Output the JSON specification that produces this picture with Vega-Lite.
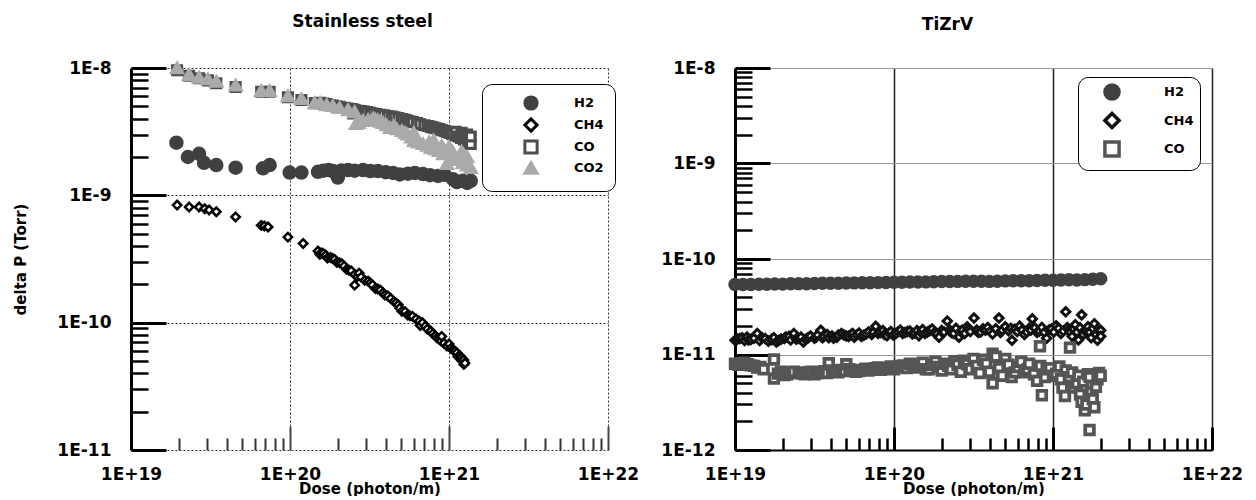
{
"$schema": "https://vega.github.io/schema/vega-lite/v6.json",
"autosize": {"type": "pad"},
"padding": {"left": 13, "top": 12, "right": 5, "bottom": 0},
"background": "white",
"bounds": "flush",
"spacing": 127,
"resolve": {"scale": {"shape": "independent", "fill": "independent", "stroke": "independent", "size": "independent", "strokeWidth": "independent"}},
"config": {
  "view": {"stroke": null},
  "font": "DejaVu Sans",
  "axis": {"labelFont": "DejaVu Sans", "labelFontWeight": "bold", "labelFontSize": 17, "labelColor": "black", "titleFont": "DejaVu Sans", "titleFontWeight": "bold", "titleFontSize": 15, "titleColor": "black", "labelFlush": false, "labelOverlap": false},
  "legend": {"labelFont": "DejaVu Sans", "labelFontWeight": "bold", "labelFontSize": 13, "labelColor": "black"}
},
"datasets": {
"ss": [
{"g":"H2","d":1.93e19,"p":2.59e-9},{"g":"H2","d":2.28e19,"p":2.00e-9},{"g":"H2","d":2.68e19,"p":2.12e-9},{"g":"H2","d":2.88e19,"p":1.80e-9},{"g":"H2","d":3.44e19,"p":1.73e-9},{"g":"H2","d":4.55e19,"p":1.65e-9},{"g":"H2","d":6.76e19,"p":1.63e-9},{"g":"H2","d":7.45e19,"p":1.73e-9},{"g":"H2","d":9.95e19,"p":1.51e-9},{"g":"H2","d":1.18e20,"p":1.51e-9},{"g":"H2","d":1.50e20,"p":1.53e-9},{"g":"H2","d":1.62e20,"p":1.56e-9},{"g":"H2","d":1.75e20,"p":1.58e-9},{"g":"H2","d":1.86e20,"p":1.55e-9},{"g":"H2","d":2.0e20,"p":1.38e-9},{"g":"H2","d":2.1e20,"p":1.57e-9},{"g":"H2","d":2.32e20,"p":1.58e-9},{"g":"H2","d":2.55e20,"p":1.56e-9},{"g":"H2","d":2.88e20,"p":1.58e-9},{"g":"H2","d":3.2e20,"p":1.55e-9},{"g":"H2","d":3.57e20,"p":1.55e-9},{"g":"H2","d":4.0e20,"p":1.52e-9},{"g":"H2","d":4.45e20,"p":1.50e-9},{"g":"H2","d":4.9e20,"p":1.46e-9},{"g":"H2","d":5.52e20,"p":1.48e-9},{"g":"H2","d":6.1e20,"p":1.50e-9},{"g":"H2","d":6.86e20,"p":1.47e-9},{"g":"H2","d":7.6e20,"p":1.44e-9},{"g":"H2","d":8.53e20,"p":1.42e-9},{"g":"H2","d":9.4e20,"p":1.45e-9},{"g":"H2","d":1.06e21,"p":1.34e-9},{"g":"H2","d":1.12e21,"p":1.27e-9},{"g":"H2","d":1.22e21,"p":1.30e-9},{"g":"H2","d":1.30e21,"p":1.25e-9},{"g":"H2","d":1.37e21,"p":1.30e-9},
{"g":"CH4","d":1.95e19,"p":8.39e-10},{"g":"CH4","d":2.32e19,"p":8.09e-10},{"g":"CH4","d":2.68e19,"p":8.09e-10},{"g":"CH4","d":2.91e19,"p":7.85e-10},{"g":"CH4","d":3.10e19,"p":7.67e-10},{"g":"CH4","d":3.44e19,"p":7.44e-10},{"g":"CH4","d":4.55e19,"p":6.76e-10},{"g":"CH4","d":6.59e19,"p":5.81e-10},{"g":"CH4","d":6.9e19,"p":5.75e-10},{"g":"CH4","d":7.28e19,"p":5.64e-10},{"g":"CH4","d":9.70e19,"p":4.70e-10},{"g":"CH4","d":1.21e20,"p":4.19e-10},{"g":"CH4","d":1.50e20,"p":3.65e-10},{"g":"CH4","d":1.54e20,"p":3.45e-10},{"g":"CH4","d":1.58e20,"p":3.52e-10},{"g":"CH4","d":1.62e20,"p":3.50e-10},{"g":"CH4","d":1.68e20,"p":3.39e-10},{"g":"CH4","d":1.72e20,"p":3.22e-10},{"g":"CH4","d":1.80e20,"p":3.25e-10},{"g":"CH4","d":1.85e20,"p":3.20e-10},{"g":"CH4","d":1.91e20,"p":3.14e-10},{"g":"CH4","d":1.97e20,"p":2.98e-10},{"g":"CH4","d":2.05e20,"p":2.95e-10},{"g":"CH4","d":2.12e20,"p":2.90e-10},{"g":"CH4","d":2.19e20,"p":2.78e-10},{"g":"CH4","d":2.27e20,"p":2.62e-10},{"g":"CH4","d":2.35e20,"p":2.58e-10},{"g":"CH4","d":2.43e20,"p":2.55e-10},{"g":"CH4","d":2.55e20,"p":2.39e-10},{"g":"CH4","d":2.55e20,"p":1.97e-10},{"g":"CH4","d":2.65e20,"p":2.30e-10},{"g":"CH4","d":2.72e20,"p":2.45e-10},{"g":"CH4","d":2.80e20,"p":2.28e-10},{"g":"CH4","d":2.95e20,"p":2.15e-10},{"g":"CH4","d":3.10e20,"p":2.12e-10},{"g":"CH4","d":3.2e20,"p":2.05e-10},{"g":"CH4","d":3.3e20,"p":1.98e-10},{"g":"CH4","d":3.45e20,"p":1.85e-10},{"g":"CH4","d":3.57e20,"p":1.84e-10},{"g":"CH4","d":3.7e20,"p":1.80e-10},{"g":"CH4","d":3.85e20,"p":1.72e-10},{"g":"CH4","d":3.95e20,"p":1.65e-10},{"g":"CH4","d":4.13e20,"p":1.62e-10},{"g":"CH4","d":4.3e20,"p":1.55e-10},{"g":"CH4","d":4.5e20,"p":1.47e-10},{"g":"CH4","d":4.64e20,"p":1.43e-10},{"g":"CH4","d":4.8e20,"p":1.38e-10},{"g":"CH4","d":4.9e20,"p":1.30e-10},{"g":"CH4","d":5.06e20,"p":1.23e-10},{"g":"CH4","d":5.3e20,"p":1.22e-10},{"g":"CH4","d":5.5e20,"p":1.15e-10},{"g":"CH4","d":5.69e20,"p":1.13e-10},{"g":"CH4","d":5.9e20,"p":1.12e-10},{"g":"CH4","d":6.20e20,"p":1.07e-10},{"g":"CH4","d":6.5e20,"p":1.03e-10},{"g":"CH4","d":6.6e20,"p":9.5e-11},{"g":"CH4","d":6.81e20,"p":9.98e-11},{"g":"CH4","d":7.1e20,"p":9.4e-11},{"g":"CH4","d":7.3e20,"p":8.9e-11},{"g":"CH4","d":7.67e20,"p":8.59e-11},{"g":"CH4","d":7.9e20,"p":8.2e-11},{"g":"CH4","d":8.2e20,"p":7.9e-11},{"g":"CH4","d":8.4e20,"p":7.6e-11},{"g":"CH4","d":8.65e20,"p":7.43e-11},{"g":"CH4","d":8.9e20,"p":7.2e-11},{"g":"CH4","d":9.0e20,"p":7.8e-11},{"g":"CH4","d":9.3e20,"p":6.9e-11},{"g":"CH4","d":9.70e20,"p":6.55e-11},{"g":"CH4","d":1.0e21,"p":6.8e-11},{"g":"CH4","d":1.03e21,"p":6.3e-11},{"g":"CH4","d":1.06e21,"p":6.1e-11},{"g":"CH4","d":1.09e21,"p":5.98e-11},{"g":"CH4","d":1.12e21,"p":5.8e-11},{"g":"CH4","d":1.14e21,"p":5.4e-11},{"g":"CH4","d":1.17e21,"p":5.47e-11},{"g":"CH4","d":1.2e21,"p":5.3e-11},{"g":"CH4","d":1.21e21,"p":5.0e-11},{"g":"CH4","d":1.24e21,"p":5.1e-11},{"g":"CH4","d":1.24e21,"p":4.7e-11},{"g":"CH4","d":1.26e21,"p":4.82e-11},
{"g":"CO","d":1.95e19,"p":9.6e-9},{"g":"CO","d":2.32e19,"p":8.7e-9},{"g":"CO","d":2.68e19,"p":8.3e-9},{"g":"CO","d":3.05e19,"p":8.0e-9},{"g":"CO","d":3.44e19,"p":7.6e-9},{"g":"CO","d":4.55e19,"p":7.1e-9},{"g":"CO","d":6.59e19,"p":6.5e-9},{"g":"CO","d":7.45e19,"p":6.5e-9},{"g":"CO","d":9.7e19,"p":5.9e-9},{"g":"CO","d":1.18e20,"p":5.6e-9},{"g":"CO","d":1.43e20,"p":5.3e-9},{"g":"CO","d":1.55e20,"p":5.34e-9},{"g":"CO","d":1.62e20,"p":5.25e-9},{"g":"CO","d":1.70e20,"p":5.2e-9},{"g":"CO","d":1.78e20,"p":5.1e-9},{"g":"CO","d":1.86e20,"p":5.07e-9},{"g":"CO","d":1.95e20,"p":5.0e-9},{"g":"CO","d":2.05e20,"p":4.95e-9},{"g":"CO","d":2.2e20,"p":4.88e-9},{"g":"CO","d":2.32e20,"p":4.80e-9},{"g":"CO","d":2.45e20,"p":4.75e-9},{"g":"CO","d":2.5e20,"p":4.4e-9},{"g":"CO","d":2.55e20,"p":4.7e-9},{"g":"CO","d":2.68e20,"p":4.62e-9},{"g":"CO","d":2.80e20,"p":4.59e-9},{"g":"CO","d":2.92e20,"p":4.55e-9},{"g":"CO","d":3.05e20,"p":4.5e-9},{"g":"CO","d":3.2e20,"p":4.45e-9},{"g":"CO","d":3.33e20,"p":4.39e-9},{"g":"CO","d":3.5e20,"p":4.35e-9},{"g":"CO","d":3.7e20,"p":4.3e-9},{"g":"CO","d":3.9e20,"p":4.25e-9},{"g":"CO","d":4.13e20,"p":4.20e-9},{"g":"CO","d":4.35e20,"p":4.15e-9},{"g":"CO","d":4.55e20,"p":4.1e-9},{"g":"CO","d":4.8e20,"p":4.05e-9},{"g":"CO","d":5.06e20,"p":3.98e-9},{"g":"CO","d":5.3e20,"p":3.92e-9},{"g":"CO","d":5.5e20,"p":3.85e-9},{"g":"CO","d":5.7e20,"p":3.8e-9},{"g":"CO","d":5.94e20,"p":3.76e-9},{"g":"CO","d":6.3e20,"p":3.7e-9},{"g":"CO","d":6.6e20,"p":3.62e-9},{"g":"CO","d":7.0e20,"p":3.55e-9},{"g":"CO","d":7.38e20,"p":3.50e-9},{"g":"CO","d":7.7e20,"p":3.45e-9},{"g":"CO","d":8.0e20,"p":3.40e-9},{"g":"CO","d":8.3e20,"p":3.36e-9},{"g":"CO","d":8.65e20,"p":3.32e-9},{"g":"CO","d":9.0e20,"p":3.25e-9},{"g":"CO","d":9.4e20,"p":3.2e-9},{"g":"CO","d":9.7e20,"p":3.15e-9},{"g":"CO","d":1.01e21,"p":3.09e-9},{"g":"CO","d":1.05e21,"p":3.02e-9},{"g":"CO","d":1.10e21,"p":2.95e-9},{"g":"CO","d":1.1e21,"p":3.15e-9},{"g":"CO","d":1.15e21,"p":2.9e-9},{"g":"CO","d":1.19e21,"p":2.82e-9},{"g":"CO","d":1.2e21,"p":3.1e-9},{"g":"CO","d":1.24e21,"p":2.75e-9},{"g":"CO","d":1.25e21,"p":2.95e-9},{"g":"CO","d":1.28e21,"p":2.68e-9},{"g":"CO","d":1.3e21,"p":3.0e-9},{"g":"CO","d":1.33e21,"p":2.6e-9},{"g":"CO","d":1.33e21,"p":2.85e-9},{"g":"CO","d":1.37e21,"p":2.53e-9},{"g":"CO","d":1.37e21,"p":2.9e-9},
{"g":"CO2","d":1.95e19,"p":9.95e-9},{"g":"CO2","d":2.32e19,"p":8.8e-9},{"g":"CO2","d":2.68e19,"p":8.4e-9},{"g":"CO2","d":3.05e19,"p":8.15e-9},{"g":"CO2","d":3.44e19,"p":7.8e-9},{"g":"CO2","d":4.55e19,"p":7.3e-9},{"g":"CO2","d":6.59e19,"p":6.6e-9},{"g":"CO2","d":7.45e19,"p":6.6e-9},{"g":"CO2","d":9.7e19,"p":6.0e-9},{"g":"CO2","d":1.18e20,"p":5.7e-9},{"g":"CO2","d":1.43e20,"p":5.3e-9},{"g":"CO2","d":1.55e20,"p":5.3e-9},{"g":"CO2","d":1.70e20,"p":5.1e-9},{"g":"CO2","d":1.86e20,"p":5.03e-9},{"g":"CO2","d":2.05e20,"p":4.85e-9},{"g":"CO2","d":2.32e20,"p":4.67e-9},{"g":"CO2","d":2.55e20,"p":4.5e-9},{"g":"CO2","d":2.60e20,"p":3.63e-9},{"g":"CO2","d":2.7e20,"p":3.7e-9},{"g":"CO2","d":2.88e20,"p":3.84e-9},{"g":"CO2","d":3.1e20,"p":3.9e-9},{"g":"CO2","d":3.33e20,"p":3.98e-9},{"g":"CO2","d":3.45e20,"p":3.92e-9},{"g":"CO2","d":3.6e20,"p":3.85e-9},{"g":"CO2","d":3.7e20,"p":3.78e-9},{"g":"CO2","d":3.85e20,"p":3.70e-9},{"g":"CO2","d":4.05e20,"p":3.55e-9},{"g":"CO2","d":4.26e20,"p":3.38e-9},{"g":"CO2","d":4.5e20,"p":3.5e-9},{"g":"CO2","d":4.7e20,"p":3.3e-9},{"g":"CO2","d":5.06e20,"p":3.20e-9},{"g":"CO2","d":5.3e20,"p":3.1e-9},{"g":"CO2","d":5.5e20,"p":3.0e-9},{"g":"CO2","d":5.8e20,"p":2.85e-9},{"g":"CO2","d":6.0e20,"p":3.1e-9},{"g":"CO2","d":6.03e20,"p":2.67e-9},{"g":"CO2","d":6.4e20,"p":2.6e-9},{"g":"CO2","d":6.86e20,"p":2.53e-9},{"g":"CO2","d":7.3e20,"p":2.45e-9},{"g":"CO2","d":7.5e20,"p":2.6e-9},{"g":"CO2","d":7.70e20,"p":2.36e-9},{"g":"CO2","d":8.0e20,"p":2.7e-9},{"g":"CO2","d":8.2e20,"p":2.3e-9},{"g":"CO2","d":8.65e20,"p":2.23e-9},{"g":"CO2","d":9.0e20,"p":2.45e-9},{"g":"CO2","d":9.2e20,"p":2.1e-9},{"g":"CO2","d":9.70e20,"p":1.76e-9},{"g":"CO2","d":1.0e21,"p":2.4e-9},{"g":"CO2","d":1.03e21,"p":2.0e-9},{"g":"CO2","d":1.05e21,"p":2.2e-9},{"g":"CO2","d":1.09e21,"p":1.96e-9},{"g":"CO2","d":1.15e21,"p":1.9e-9},{"g":"CO2","d":1.2e21,"p":2.2e-9},{"g":"CO2","d":1.22e21,"p":1.79e-9},{"g":"CO2","d":1.3e21,"p":1.72e-9},{"g":"CO2","d":1.3e21,"p":2.0e-9},{"g":"CO2","d":1.37e21,"p":1.64e-9}
],
"tzv": [
{"g":"H2","d":1.000e19,"p":5.40e-11},{"g":"H2","d":1.122e19,"p":5.42e-11},{"g":"H2","d":1.259e19,"p":5.40e-11},{"g":"H2","d":1.413e19,"p":5.45e-11},{"g":"H2","d":1.585e19,"p":5.44e-11},{"g":"H2","d":1.778e19,"p":5.47e-11},{"g":"H2","d":1.995e19,"p":5.46e-11},{"g":"H2","d":2.239e19,"p":5.50e-11},{"g":"H2","d":2.512e19,"p":5.52e-11},{"g":"H2","d":2.818e19,"p":5.50e-11},{"g":"H2","d":3.162e19,"p":5.55e-11},{"g":"H2","d":3.548e19,"p":5.56e-11},{"g":"H2","d":3.981e19,"p":5.58e-11},{"g":"H2","d":4.467e19,"p":5.57e-11},{"g":"H2","d":5.012e19,"p":5.60e-11},{"g":"H2","d":5.623e19,"p":5.62e-11},{"g":"H2","d":6.310e19,"p":5.63e-11},{"g":"H2","d":7.079e19,"p":5.65e-11},{"g":"H2","d":7.943e19,"p":5.66e-11},{"g":"H2","d":8.913e19,"p":5.68e-11},{"g":"H2","d":1.000e20,"p":5.70e-11},{"g":"H2","d":1.122e20,"p":5.72e-11},{"g":"H2","d":1.259e20,"p":5.73e-11},{"g":"H2","d":1.413e20,"p":5.75e-11},{"g":"H2","d":1.585e20,"p":5.76e-11},{"g":"H2","d":1.778e20,"p":5.78e-11},{"g":"H2","d":1.995e20,"p":5.80e-11},{"g":"H2","d":2.239e20,"p":5.82e-11},{"g":"H2","d":2.512e20,"p":5.83e-11},{"g":"H2","d":2.818e20,"p":5.85e-11},{"g":"H2","d":3.162e20,"p":5.86e-11},{"g":"H2","d":3.548e20,"p":5.84e-11},{"g":"H2","d":3.981e20,"p":5.83e-11},{"g":"H2","d":4.467e20,"p":5.86e-11},{"g":"H2","d":5.012e20,"p":5.90e-11},{"g":"H2","d":5.623e20,"p":5.92e-11},{"g":"H2","d":6.310e20,"p":5.93e-11},{"g":"H2","d":7.079e20,"p":5.92e-11},{"g":"H2","d":7.943e20,"p":5.95e-11},{"g":"H2","d":8.913e20,"p":5.98e-11},{"g":"H2","d":1.000e21,"p":6.00e-11},{"g":"H2","d":1.122e21,"p":6.02e-11},{"g":"H2","d":1.259e21,"p":6.05e-11},{"g":"H2","d":1.413e21,"p":6.02e-11},{"g":"H2","d":1.585e21,"p":6.08e-11},{"g":"H2","d":1.778e21,"p":6.15e-11},{"g":"H2","d":1.995e21,"p":6.20e-11},
{"g":"CH4","d":1.000e19,"p":1.41e-11},{"g":"CH4","d":1.035e19,"p":1.45e-11},{"g":"CH4","d":1.072e19,"p":1.47e-11},{"g":"CH4","d":1.109e19,"p":1.50e-11},{"g":"CH4","d":1.148e19,"p":1.40e-11},{"g":"CH4","d":1.189e19,"p":1.52e-11},{"g":"CH4","d":1.216e19,"p":1.42e-11},{"g":"CH4","d":1.259e19,"p":1.44e-11},{"g":"CH4","d":1.318e19,"p":1.48e-11},{"g":"CH4","d":1.380e19,"p":1.66e-11},{"g":"CH4","d":1.429e19,"p":1.40e-11},{"g":"CH4","d":1.479e19,"p":1.50e-11},{"g":"CH4","d":1.549e19,"p":1.47e-11},{"g":"CH4","d":1.622e19,"p":1.38e-11},{"g":"CH4","d":1.698e19,"p":1.43e-11},{"g":"CH4","d":1.758e19,"p":1.50e-11},{"g":"CH4","d":1.820e19,"p":1.35e-11},{"g":"CH4","d":1.884e19,"p":1.40e-11},{"g":"CH4","d":1.950e19,"p":1.45e-11},{"g":"CH4","d":2.042e19,"p":1.47e-11},{"g":"CH4","d":2.089e19,"p":1.52e-11},{"g":"CH4","d":2.188e19,"p":1.55e-11},{"g":"CH4","d":2.239e19,"p":1.42e-11},{"g":"CH4","d":2.344e19,"p":1.66e-11},{"g":"CH4","d":2.427e19,"p":1.45e-11},{"g":"CH4","d":2.512e19,"p":1.47e-11},{"g":"CH4","d":2.600e19,"p":1.52e-11},{"g":"CH4","d":2.692e19,"p":1.35e-11},{"g":"CH4","d":2.786e19,"p":1.44e-11},{"g":"CH4","d":2.884e19,"p":1.50e-11},{"g":"CH4","d":2.985e19,"p":1.56e-11},{"g":"CH4","d":3.162e19,"p":1.48e-11},{"g":"CH4","d":3.236e19,"p":1.52e-11},{"g":"CH4","d":3.311e19,"p":1.60e-11},{"g":"CH4","d":3.467e19,"p":1.79e-11},{"g":"CH4","d":3.548e19,"p":1.50e-11},{"g":"CH4","d":3.631e19,"p":1.55e-11},{"g":"CH4","d":3.802e19,"p":1.62e-11},{"g":"CH4","d":3.890e19,"p":1.50e-11},{"g":"CH4","d":4.074e19,"p":1.56e-11},{"g":"CH4","d":4.169e19,"p":1.48e-11},{"g":"CH4","d":4.365e19,"p":1.52e-11},{"g":"CH4","d":4.467e19,"p":1.60e-11},{"g":"CH4","d":4.677e19,"p":1.66e-11},{"g":"CH4","d":4.842e19,"p":1.60e-11},{"g":"CH4","d":5.012e19,"p":1.56e-11},{"g":"CH4","d":5.188e19,"p":1.55e-11},{"g":"CH4","d":5.370e19,"p":1.62e-11},{"g":"CH4","d":5.495e19,"p":1.66e-11},{"g":"CH4","d":5.623e19,"p":1.52e-11},{"g":"CH4","d":5.821e19,"p":1.60e-11},{"g":"CH4","d":6.026e19,"p":1.68e-11},{"g":"CH4","d":6.237e19,"p":1.55e-11},{"g":"CH4","d":6.457e19,"p":1.59e-11},{"g":"CH4","d":6.683e19,"p":1.64e-11},{"g":"CH4","d":6.918e19,"p":1.72e-11},{"g":"CH4","d":7.244e19,"p":1.62e-11},{"g":"CH4","d":7.413e19,"p":1.70e-11},{"g":"CH4","d":7.674e19,"p":1.97e-11},{"g":"CH4","d":7.943e19,"p":1.66e-11},{"g":"CH4","d":8.222e19,"p":1.70e-11},{"g":"CH4","d":8.511e19,"p":1.78e-11},{"g":"CH4","d":8.710e19,"p":1.62e-11},{"g":"CH4","d":9.036e19,"p":1.57e-11},{"g":"CH4","d":9.333e19,"p":1.68e-11},{"g":"CH4","d":9.550e19,"p":1.74e-11},{"g":"CH4","d":9.886e19,"p":1.60e-11},{"g":"CH4","d":1.023e20,"p":1.65e-11},{"g":"CH4","d":1.059e20,"p":1.72e-11},{"g":"CH4","d":1.096e20,"p":1.80e-11},{"g":"CH4","d":1.135e20,"p":1.66e-11},{"g":"CH4","d":1.175e20,"p":1.70e-11},{"g":"CH4","d":1.216e20,"p":1.74e-11},{"g":"CH4","d":1.259e20,"p":1.76e-11},{"g":"CH4","d":1.303e20,"p":1.64e-11},{"g":"CH4","d":1.349e20,"p":1.68e-11},{"g":"CH4","d":1.396e20,"p":1.78e-11},{"g":"CH4","d":1.435e20,"p":1.57e-11},{"g":"CH4","d":1.479e20,"p":1.70e-11},{"g":"CH4","d":1.514e20,"p":1.82e-11},{"g":"CH4","d":1.567e20,"p":1.66e-11},{"g":"CH4","d":1.622e20,"p":1.72e-11},{"g":"CH4","d":1.679e20,"p":1.78e-11},{"g":"CH4","d":1.738e20,"p":1.85e-11},{"g":"CH4","d":1.799e20,"p":1.70e-11},{"g":"CH4","d":1.862e20,"p":1.64e-11},{"g":"CH4","d":1.919e20,"p":1.52e-11},{"g":"CH4","d":1.995e20,"p":1.78e-11},{"g":"CH4","d":2.065e20,"p":1.72e-11},{"g":"CH4","d":2.163e20,"p":2.24e-11},{"g":"CH4","d":2.239e20,"p":1.80e-11},{"g":"CH4","d":2.291e20,"p":1.70e-11},{"g":"CH4","d":2.371e20,"p":1.66e-11},{"g":"CH4","d":2.455e20,"p":1.88e-11},{"g":"CH4","d":2.564e20,"p":1.52e-11},{"g":"CH4","d":2.630e20,"p":1.74e-11},{"g":"CH4","d":2.692e20,"p":1.80e-11},{"g":"CH4","d":2.786e20,"p":1.66e-11},{"g":"CH4","d":2.884e20,"p":1.95e-11},{"g":"CH4","d":2.951e20,"p":1.84e-11},{"g":"CH4","d":3.020e20,"p":1.74e-11},{"g":"CH4","d":3.184e20,"p":2.41e-11},{"g":"CH4","d":3.311e20,"p":1.80e-11},{"g":"CH4","d":3.388e20,"p":1.70e-11},{"g":"CH4","d":3.508e20,"p":1.72e-11},{"g":"CH4","d":3.631e20,"p":1.86e-11},{"g":"CH4","d":3.758e20,"p":1.80e-11},{"g":"CH4","d":3.890e20,"p":1.92e-11},{"g":"CH4","d":4.027e20,"p":1.74e-11},{"g":"CH4","d":4.169e20,"p":1.64e-11},{"g":"CH4","d":4.365e20,"p":1.86e-11},{"g":"CH4","d":4.571e20,"p":2.41e-11},{"g":"CH4","d":4.677e20,"p":1.70e-11},{"g":"CH4","d":4.786e20,"p":1.80e-11},{"g":"CH4","d":5.012e20,"p":1.95e-11},{"g":"CH4","d":5.248e20,"p":1.78e-11},{"g":"CH4","d":5.433e20,"p":1.88e-11},{"g":"CH4","d":5.521e20,"p":1.41e-11},{"g":"CH4","d":5.754e20,"p":1.84e-11},{"g":"CH4","d":5.957e20,"p":1.74e-11},{"g":"CH4","d":6.166e20,"p":1.98e-11},{"g":"CH4","d":6.383e20,"p":1.80e-11},{"g":"CH4","d":6.607e20,"p":1.62e-11},{"g":"CH4","d":6.839e20,"p":1.72e-11},{"g":"CH4","d":7.079e20,"p":1.88e-11},{"g":"CH4","d":7.244e20,"p":1.80e-11},{"g":"CH4","d":7.413e20,"p":2.36e-11},{"g":"CH4","d":7.674e20,"p":1.90e-11},{"g":"CH4","d":7.943e20,"p":1.70e-11},{"g":"CH4","d":8.222e20,"p":1.76e-11},{"g":"CH4","d":8.511e20,"p":1.92e-11},{"g":"CH4","d":8.810e20,"p":1.70e-11},{"g":"CH4","d":9.120e20,"p":1.48e-11},{"g":"CH4","d":9.441e20,"p":1.80e-11},{"g":"CH4","d":9.772e20,"p":1.85e-11},{"g":"CH4","d":1.012e21,"p":1.72e-11},{"g":"CH4","d":1.047e21,"p":2.00e-11},{"g":"CH4","d":1.084e21,"p":1.88e-11},{"g":"CH4","d":1.122e21,"p":1.66e-11},{"g":"CH4","d":1.161e21,"p":1.76e-11},{"g":"CH4","d":1.202e21,"p":2.80e-11},{"g":"CH4","d":1.230e21,"p":1.92e-11},{"g":"CH4","d":1.259e21,"p":1.80e-11},{"g":"CH4","d":1.288e21,"p":1.70e-11},{"g":"CH4","d":1.318e21,"p":1.55e-11},{"g":"CH4","d":1.349e21,"p":1.85e-11},{"g":"CH4","d":1.380e21,"p":2.05e-11},{"g":"CH4","d":1.413e21,"p":1.72e-11},{"g":"CH4","d":1.445e21,"p":1.42e-11},{"g":"CH4","d":1.479e21,"p":1.90e-11},{"g":"CH4","d":1.514e21,"p":2.60e-11},{"g":"CH4","d":1.549e21,"p":1.62e-11},{"g":"CH4","d":1.585e21,"p":1.78e-11},{"g":"CH4","d":1.622e21,"p":1.85e-11},{"g":"CH4","d":1.660e21,"p":1.95e-11},{"g":"CH4","d":1.698e21,"p":1.70e-11},{"g":"CH4","d":1.738e21,"p":1.50e-11},{"g":"CH4","d":1.778e21,"p":1.88e-11},{"g":"CH4","d":1.820e21,"p":2.10e-11},{"g":"CH4","d":1.862e21,"p":1.62e-11},{"g":"CH4","d":1.905e21,"p":1.41e-11},{"g":"CH4","d":1.950e21,"p":1.75e-11},{"g":"CH4","d":1.995e21,"p":1.79e-11},{"g":"CH4","d":1.995e21,"p":1.55e-11},
{"g":"CO","d":1.000e19,"p":8.0e-12},{"g":"CO","d":1.047e19,"p":7.8e-12},{"g":"CO","d":1.096e19,"p":8.1e-12},{"g":"CO","d":1.148e19,"p":8.2e-12},{"g":"CO","d":1.202e19,"p":7.9e-12},{"g":"CO","d":1.259e19,"p":7.7e-12},{"g":"CO","d":1.318e19,"p":7.6e-12},{"g":"CO","d":1.380e19,"p":7.3e-12},{"g":"CO","d":1.445e19,"p":7.4e-12},{"g":"CO","d":1.514e19,"p":7.0e-12},{"g":"CO","d":1.758e19,"p":8.85e-12},{"g":"CO","d":1.758e19,"p":5.6e-12},{"g":"CO","d":1.862e19,"p":6.3e-12},{"g":"CO","d":1.950e19,"p":6.6e-12},{"g":"CO","d":2.042e19,"p":6.1e-12},{"g":"CO","d":2.138e19,"p":6.2e-12},{"g":"CO","d":2.239e19,"p":6.4e-12},{"g":"CO","d":2.344e19,"p":6.6e-12},{"g":"CO","d":2.512e19,"p":6.5e-12},{"g":"CO","d":2.630e19,"p":6.3e-12},{"g":"CO","d":2.754e19,"p":6.2e-12},{"g":"CO","d":2.884e19,"p":6.5e-12},{"g":"CO","d":3.020e19,"p":6.6e-12},{"g":"CO","d":3.162e19,"p":6.2e-12},{"g":"CO","d":3.311e19,"p":6.4e-12},{"g":"CO","d":3.467e19,"p":6.5e-12},{"g":"CO","d":3.631e19,"p":6.7e-12},{"g":"CO","d":3.802e19,"p":6.4e-12},{"g":"CO","d":3.890e19,"p":8.1e-12},{"g":"CO","d":4.074e19,"p":6.8e-12},{"g":"CO","d":4.266e19,"p":6.6e-12},{"g":"CO","d":4.467e19,"p":6.5e-12},{"g":"CO","d":4.677e19,"p":6.9e-12},{"g":"CO","d":4.898e19,"p":6.7e-12},{"g":"CO","d":5.012e19,"p":7.9e-12},{"g":"CO","d":5.248e19,"p":7.0e-12},{"g":"CO","d":5.495e19,"p":6.8e-12},{"g":"CO","d":5.754e19,"p":6.6e-12},{"g":"CO","d":6.026e19,"p":6.7e-12},{"g":"CO","d":6.310e19,"p":6.9e-12},{"g":"CO","d":6.607e19,"p":7.1e-12},{"g":"CO","d":6.918e19,"p":6.8e-12},{"g":"CO","d":7.244e19,"p":7.0e-12},{"g":"CO","d":7.586e19,"p":7.2e-12},{"g":"CO","d":7.943e19,"p":7.3e-12},{"g":"CO","d":8.318e19,"p":6.9e-12},{"g":"CO","d":8.710e19,"p":7.1e-12},{"g":"CO","d":9.120e19,"p":7.2e-12},{"g":"CO","d":9.550e19,"p":7.5e-12},{"g":"CO","d":1.000e20,"p":7.0e-12},{"g":"CO","d":1.047e20,"p":7.4e-12},{"g":"CO","d":1.096e20,"p":7.6e-12},{"g":"CO","d":1.148e20,"p":7.7e-12},{"g":"CO","d":1.202e20,"p":7.2e-12},{"g":"CO","d":1.259e20,"p":8.0e-12},{"g":"CO","d":1.318e20,"p":7.8e-12},{"g":"CO","d":1.380e20,"p":7.3e-12},{"g":"CO","d":1.445e20,"p":7.5e-12},{"g":"CO","d":1.514e20,"p":8.2e-12},{"g":"CO","d":1.585e20,"p":7.0e-12},{"g":"CO","d":1.660e20,"p":7.0e-12},{"g":"CO","d":1.738e20,"p":7.8e-12},{"g":"CO","d":1.820e20,"p":8.4e-12},{"g":"CO","d":1.905e20,"p":7.4e-12},{"g":"CO","d":1.995e20,"p":6.8e-12},{"g":"CO","d":2.089e20,"p":8.0e-12},{"g":"CO","d":2.188e20,"p":7.6e-12},{"g":"CO","d":2.291e20,"p":7.0e-12},{"g":"CO","d":2.399e20,"p":8.5e-12},{"g":"CO","d":2.512e20,"p":7.8e-12},{"g":"CO","d":2.630e20,"p":6.6e-12},{"g":"CO","d":2.754e20,"p":8.6e-12},{"g":"CO","d":2.884e20,"p":7.9e-12},{"g":"CO","d":3.020e20,"p":7.0e-12},{"g":"CO","d":3.162e20,"p":9.0e-12},{"g":"CO","d":3.311e20,"p":7.6e-12},{"g":"CO","d":3.467e20,"p":6.4e-12},{"g":"CO","d":3.631e20,"p":8.8e-12},{"g":"CO","d":3.802e20,"p":8.0e-12},{"g":"CO","d":3.981e20,"p":6.6e-12},{"g":"CO","d":4.169e20,"p":1.02e-11},{"g":"CO","d":4.169e20,"p":5.0e-12},{"g":"CO","d":4.365e20,"p":9.5e-12},{"g":"CO","d":4.571e20,"p":7.2e-12},{"g":"CO","d":4.786e20,"p":6.0e-12},{"g":"CO","d":5.012e20,"p":9.0e-12},{"g":"CO","d":5.248e20,"p":7.8e-12},{"g":"CO","d":5.495e20,"p":5.8e-12},{"g":"CO","d":5.754e20,"p":6.5e-12},{"g":"CO","d":6.026e20,"p":7.4e-12},{"g":"CO","d":6.310e20,"p":8.4e-12},{"g":"CO","d":6.607e20,"p":6.5e-12},{"g":"CO","d":6.918e20,"p":7.0e-12},{"g":"CO","d":7.079e20,"p":8.0e-12},{"g":"CO","d":7.586e20,"p":6.2e-12},{"g":"CO","d":7.943e20,"p":5.3e-12},{"g":"CO","d":8.28e20,"p":1.22e-11},{"g":"CO","d":8.318e20,"p":7.6e-12},{"g":"CO","d":8.511e20,"p":3.75e-12},{"g":"CO","d":8.913e20,"p":5.8e-12},{"g":"CO","d":9.120e20,"p":7.0e-12},{"g":"CO","d":9.550e20,"p":7.2e-12},{"g":"CO","d":1.000e21,"p":6.0e-12},{"g":"CO","d":1.047e21,"p":6.3e-12},{"g":"CO","d":1.096e21,"p":7.5e-12},{"g":"CO","d":1.122e21,"p":5.5e-12},{"g":"CO","d":1.148e21,"p":4.5e-12},{"g":"CO","d":1.189e21,"p":3.68e-12},{"g":"CO","d":1.202e21,"p":6.8e-12},{"g":"CO","d":1.259e21,"p":5.8e-12},{"g":"CO","d":1.279e21,"p":1.18e-11},{"g":"CO","d":1.318e21,"p":6.5e-12},{"g":"CO","d":1.349e21,"p":4.5e-12},{"g":"CO","d":1.413e21,"p":5.0e-12},{"g":"CO","d":1.445e21,"p":6.0e-12},{"g":"CO","d":1.479e21,"p":3.8e-12},{"g":"CO","d":1.514e21,"p":3.2e-12},{"g":"CO","d":1.549e21,"p":5.2e-12},{"g":"CO","d":1.585e21,"p":2.6e-12},{"g":"CO","d":1.622e21,"p":3.0e-12},{"g":"CO","d":1.660e21,"p":6.2e-12},{"g":"CO","d":1.698e21,"p":1.62e-12},{"g":"CO","d":1.698e21,"p":5.8e-12},{"g":"CO","d":1.738e21,"p":4.0e-12},{"g":"CO","d":1.778e21,"p":3.4e-12},{"g":"CO","d":1.820e21,"p":2.8e-12},{"g":"CO","d":1.862e21,"p":4.6e-12},{"g":"CO","d":1.905e21,"p":5.5e-12},{"g":"CO","d":1.950e21,"p":6.4e-12},{"g":"CO","d":1.995e21,"p":6.0e-12}
]
},
"hconcat": [
{
  "title": {"text": "Stainless steel", "frame": "group", "anchor": "middle", "offset": 12, "baseline": "alphabetic", "fontSize": 17, "fontWeight": "bold", "font": "DejaVu Sans", "color": "black", "dx": -7},
  "width": 477, "height": 382,
  "data": {"name": "ss"},
  "resolve": {"axis": {"x": "independent", "y": "independent"}},
  "layer": [
    {
      "mark": {"type": "point", "opacity": 0},
      "encoding": {
        "x": {"field": "d", "type": "quantitative", "scale": {"type": "log", "domain": [1e19, 1e22], "nice": false},
              "axis": {"orient": "bottom", "values": [1e20, 1e21, 1e22], "labels": false, "grid": false, "domain": false, "ticks": true, "tickSize": -24, "tickWidth": 2, "tickColor": "#444", "title": null}},
        "y": {"field": "p", "type": "quantitative", "scale": {"type": "log", "domain": [1e-11, 1e-8], "nice": false},
              "axis": {"orient": "left", "values": [1e-11, 1e-10, 1e-9, 1e-8], "labels": false, "grid": false, "domain": false, "ticks": true, "tickSize": -35, "tickWidth": 3, "tickColor": "black", "title": null}}
      }
    },
    {
      "mark": {"type": "point", "opacity": 0},
      "encoding": {
        "x": {"field": "d", "type": "quantitative", "scale": {"type": "log", "domain": [1e19, 1e22], "nice": false},
              "axis": {"orient": "bottom", "values": [2e19,3e19,4e19,5e19,6e19,7e19,8e19,9e19,2e20,3e20,4e20,5e20,6e20,7e20,8e20,9e20,2e21,3e21,4e21,5e21,6e21,7e21,8e21,9e21], "labels": false, "grid": false, "domain": false, "ticks": true, "tickSize": -12, "tickWidth": 2, "tickColor": "#333", "title": null}},
        "y": {"field": "p", "type": "quantitative", "scale": {"type": "log", "domain": [1e-11, 1e-8], "nice": false},
              "axis": {"orient": "left", "values": [2e-11,3e-11,4e-11,5e-11,6e-11,7e-11,8e-11,9e-11,2e-10,3e-10,4e-10,5e-10,6e-10,7e-10,8e-10,9e-10,2e-9,3e-9,4e-9,5e-9,6e-9,7e-9,8e-9,9e-9], "labels": false, "grid": false, "domain": false, "ticks": true, "tickSize": -17, "tickWidth": 2.5, "tickColor": "black", "title": null}}
      }
    },
    {
      "mark": {"type": "point", "opacity": 1},
      "encoding": {
        "x": {"field": "d", "type": "quantitative", "scale": {"type": "log", "domain": [1e19, 1e22], "nice": false},
              "axis": {"orient": "bottom", "values": [1e19, 1e20, 1e21, 1e22], "labelExpr": "'1E+' + round(log(datum.value)/LN10)", "ticks": false, "tickSize": 0, "domain": false, "grid": true, "gridDash": [2, 2], "gridColor": "#333", "gridWidth": 1, "labelPadding": 29, "labelBaseline": "alphabetic", "title": "Dose (photon/m)", "titleY": 43, "titleBaseline": "alphabetic"}},
        "y": {"field": "p", "type": "quantitative", "scale": {"type": "log", "domain": [1e-11, 1e-8], "nice": false},
              "axis": {"orient": "left", "values": [1e-11, 1e-10, 1e-9, 1e-8], "labelExpr": "'1E' + round(log(datum.value)/LN10)", "ticks": false, "tickSize": 0, "domain": true, "domainColor": "black", "domainWidth": 3, "grid": true, "gridDash": [2, 2], "gridColor": "#333", "gridWidth": 1, "labelPadding": 20, "labelBaseline": "middle", "title": "delta P (Torr)", "titleX": -111, "titleY": 191, "titleAngle": 270, "titleAlign": "center", "titleBaseline": "middle"}},
        "shape": {"field": "g", "type": "nominal", "scale": {"domain": ["H2", "CH4", "CO", "CO2"], "range": ["circle", "diamond", "square", "triangle-up"]},
                  "legend": {"orient": "none", "legendX": 351, "legendY": 16, "title": null, "strokeColor": "black", "cornerRadius": 10, "fillColor": "white", "padding": 11, "symbolOffset": 30, "labelOffset": 35, "rowPadding": -4, "symbolSize": 150, "symbolStrokeWidth": 3}},
        "fill": {"field": "g", "type": "nominal", "scale": {"domain": ["H2", "CH4", "CO", "CO2"], "range": ["#404040", "white", "white", "#aaaaaa"]},
                 "legend": {"orient": "none", "legendX": 351, "legendY": 16, "title": null, "strokeColor": "black", "cornerRadius": 10, "fillColor": "white", "padding": 11, "symbolOffset": 30, "labelOffset": 35, "rowPadding": -4, "symbolSize": 150, "symbolStrokeWidth": 3}},
        "stroke": {"field": "g", "type": "nominal", "scale": {"domain": ["H2", "CH4", "CO", "CO2"], "range": ["#404040", "black", "#4d4d4d", "#aaaaaa"]},
                 "legend": {"orient": "none", "legendX": 351, "legendY": 16, "title": null, "strokeColor": "black", "cornerRadius": 10, "fillColor": "white", "padding": 11, "symbolOffset": 30, "labelOffset": 35, "rowPadding": -4, "symbolSize": 150, "symbolStrokeWidth": 3}},
        "size": {"field": "g", "type": "ordinal", "scale": {"range": [70, 90, 180, 130]}, "legend": null},
        "strokeWidth": {"field": "g", "type": "ordinal", "scale": {"range": [2.5, 5, 1, 1]}, "legend": null}
      }
    }
  ]
},
{
  "title": {"text": "TiZrV", "frame": "group", "anchor": "middle", "offset": 12, "baseline": "alphabetic", "fontSize": 17, "fontWeight": "bold", "font": "DejaVu Sans", "color": "black", "dx": -26},
  "width": 477, "height": 382,
  "data": {"name": "tzv"},
  "resolve": {"axis": {"x": "independent", "y": "independent"}},
  "layer": [
    {
      "mark": {"type": "point", "opacity": 0},
      "encoding": {
        "x": {"field": "d", "type": "quantitative", "scale": {"type": "log", "domain": [1e19, 1e22], "nice": false},
              "axis": {"orient": "bottom", "values": [1e20, 1e21, 1e22], "labels": false, "grid": false, "domain": false, "ticks": true, "tickSize": -23, "tickWidth": 3, "tickColor": "black", "title": null}},
        "y": {"field": "p", "type": "quantitative", "scale": {"type": "log", "domain": [1e-12, 1e-8], "nice": false},
              "axis": {"orient": "left", "values": [1e-12, 1e-11, 1e-10, 1e-9, 1e-8], "labels": false, "grid": false, "domain": false, "ticks": true, "tickSize": -35, "tickWidth": 3, "tickColor": "black", "title": null}}
      }
    },
    {
      "mark": {"type": "point", "opacity": 0},
      "encoding": {
        "x": {"field": "d", "type": "quantitative", "scale": {"type": "log", "domain": [1e19, 1e22], "nice": false},
              "axis": {"orient": "bottom", "values": [2e19,3e19,4e19,5e19,6e19,7e19,8e19,9e19,2e20,3e20,4e20,5e20,6e20,7e20,8e20,9e20,2e21,3e21,4e21,5e21,6e21,7e21,8e21,9e21], "labels": false, "grid": false, "domain": false, "ticks": true, "tickSize": -12, "tickWidth": 2.5, "tickColor": "black", "title": null}},
        "y": {"field": "p", "type": "quantitative", "scale": {"type": "log", "domain": [1e-12, 1e-8], "nice": false},
              "axis": {"orient": "left", "values": [2e-12,3e-12,4e-12,5e-12,6e-12,7e-12,8e-12,9e-12,2e-11,3e-11,4e-11,5e-11,6e-11,7e-11,8e-11,9e-11,2e-10,3e-10,4e-10,5e-10,6e-10,7e-10,8e-10,9e-10,2e-9,3e-9,4e-9,5e-9,6e-9,7e-9,8e-9,9e-9], "labels": false, "grid": false, "domain": false, "ticks": true, "tickSize": -17, "tickWidth": 2.5, "tickColor": "black", "title": null}}
      }
    },
    {
      "mark": {"type": "point", "opacity": 1},
      "encoding": {
        "x": {"field": "d", "type": "quantitative", "scale": {"type": "log", "domain": [1e19, 1e22], "nice": false},
              "axis": {"orient": "bottom", "values": [1e19, 1e20, 1e21, 1e22], "labelExpr": "'1E+' + round(log(datum.value)/LN10)", "ticks": false, "tickSize": 0, "domain": true, "domainColor": "black", "domainWidth": 2, "grid": true, "gridColor": "#222", "gridWidth": 1.5, "labelPadding": 29, "labelBaseline": "alphabetic", "title": "Dose (photon/m)", "titleY": 43, "titleBaseline": "alphabetic"}},
        "y": {"field": "p", "type": "quantitative", "scale": {"type": "log", "domain": [1e-12, 1e-8], "nice": false},
              "axis": {"orient": "left", "values": [1e-12, 1e-11, 1e-10, 1e-9, 1e-8], "labelExpr": "'1E' + round(log(datum.value)/LN10)", "ticks": false, "tickSize": 0, "domain": true, "domainColor": "black", "domainWidth": 3, "grid": true, "gridColor": "#999", "gridWidth": 1, "labelPadding": 20, "labelBaseline": "middle", "title": null}},
        "shape": {"field": "g", "type": "nominal", "scale": {"domain": ["H2", "CH4", "CO"], "range": ["circle", "diamond", "square"]},
                  "legend": {"orient": "none", "legendX": 343, "legendY": 9, "title": null, "strokeColor": "black", "cornerRadius": 10, "fillColor": "white", "padding": 6, "symbolOffset": 19, "labelOffset": 43, "rowPadding": -1.5, "symbolSize": 200, "symbolStrokeWidth": 3.5}},
        "fill": {"field": "g", "type": "nominal", "scale": {"domain": ["H2", "CH4", "CO"], "range": ["#404040", "white", "white"]},
                 "legend": {"orient": "none", "legendX": 343, "legendY": 9, "title": null, "strokeColor": "black", "cornerRadius": 10, "fillColor": "white", "padding": 6, "symbolOffset": 19, "labelOffset": 43, "rowPadding": -1.5, "symbolSize": 200, "symbolStrokeWidth": 3.5}},
        "stroke": {"field": "g", "type": "nominal", "scale": {"domain": ["H2", "CH4", "CO"], "range": ["#404040", "#111111", "#555555"]},
                 "legend": {"orient": "none", "legendX": 343, "legendY": 9, "title": null, "strokeColor": "black", "cornerRadius": 10, "fillColor": "white", "padding": 6, "symbolOffset": 19, "labelOffset": 43, "rowPadding": -1.5, "symbolSize": 200, "symbolStrokeWidth": 3.5}},
        "size": {"field": "g", "type": "ordinal", "scale": {"range": [70, 80, 80]}, "legend": null},
        "strokeWidth": {"field": "g", "type": "ordinal", "scale": {"range": [3, 4.5, 1]}, "legend": null}
      }
    }
  ]
}
]
}
